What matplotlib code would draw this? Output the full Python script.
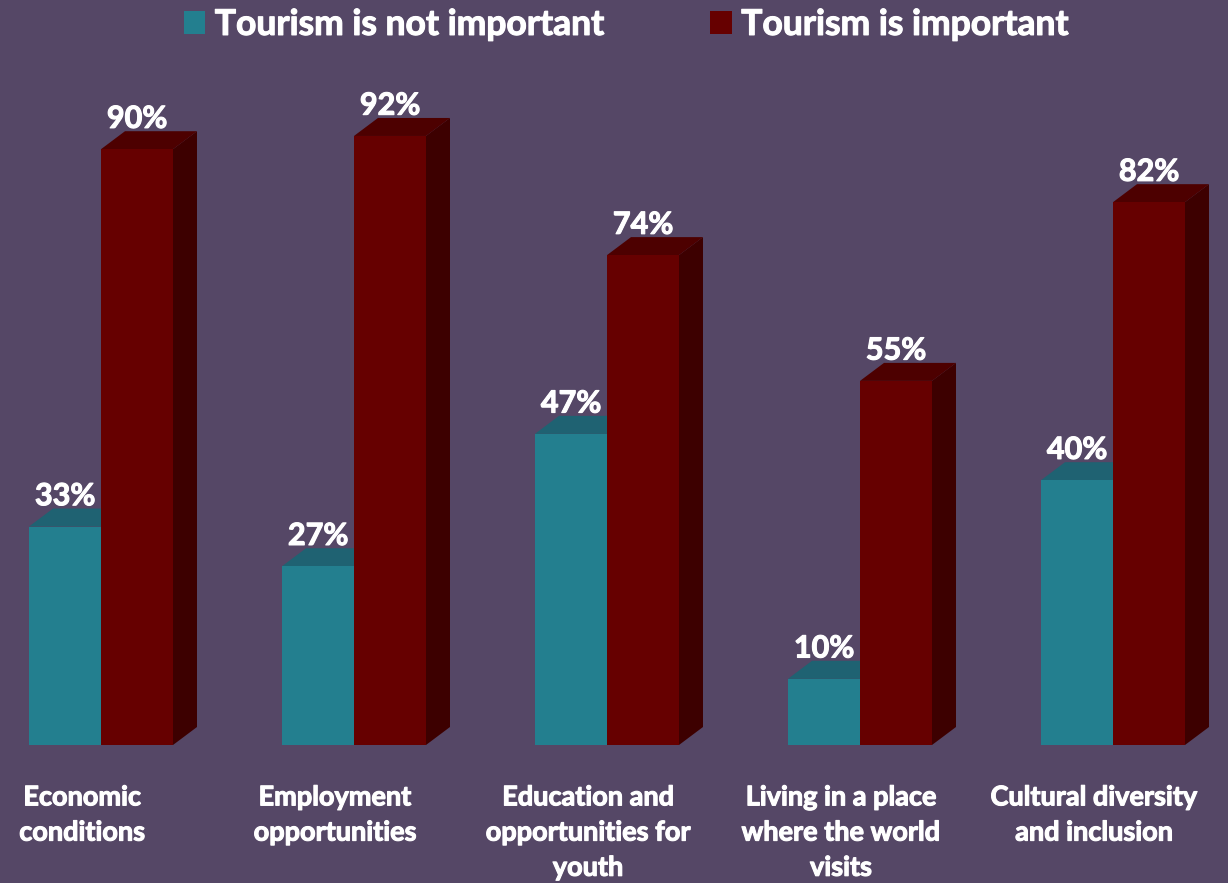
import matplotlib
matplotlib.use("Agg")
import matplotlib.pyplot as plt
import matplotlib.patheffects as pe
from matplotlib.patches import Polygon, Rectangle, Patch

categories = [
    "Economic\nconditions",
    "Employment\nopportunities",
    "Education and\nopportunities for\nyouth",
    "Living in a place\nwhere the world\nvisits",
    "Cultural diversity\nand inclusion",
]
not_important = [33, 27, 47, 10, 40]
important = [90, 92, 74, 55, 82]
series_names = ["Tourism is not important", "Tourism is important"]

BG = "#554766"
FRONT = ["#237f8f", "#660000"]
TOP = ["#1f6272", "#4d0000"]
SIDE = ["#1a5360", "#3d0000"]

plt.rcParams["font.family"] = ["Lato", "DejaVu Sans"]
plt.rcParams["font.weight"] = "bold"

# slight outline to give the white text a heavier look
HEAVY = [pe.withStroke(linewidth=0.8, foreground="white")]

fig = plt.figure(figsize=(12.28, 8.83), dpi=100)
fig.patch.set_facecolor(BG)

# axes spans full width; 0% sits at the bars' baseline
ax = fig.add_axes([0, 138 / 883, 1, 662 / 883])
ax.set_facecolor("none")
ax.set_xlim(-101 / 253, (1228 - 101) / 253)
ax.set_ylim(0, 100)
ax.axis("off")

W = 72 / 253      # bar width in group units
DX = 24 / 253     # depth offset (x)
DY = 18 / 6.62    # depth offset (y, in %)


def bar3d(x0, h, k):
    x1 = x0 + W
    ax.add_patch(Polygon([(x1, 0), (x1 + DX, DY), (x1 + DX, h + DY), (x1, h)],
                         closed=True, fc=SIDE[k], ec="none"))
    ax.add_patch(Polygon([(x0, h), (x0 + DX, h + DY), (x1 + DX, h + DY), (x1, h)],
                         closed=True, fc=TOP[k], ec="none"))
    ax.add_patch(Rectangle((x0, 0), W, h, fc=FRONT[k], ec="none"))
    ax.text(x0 + W / 2, h + DY + 0.5, f"{h}%", ha="center", va="baseline",
            color="white", fontsize=22, fontweight="bold", clip_on=False,
            path_effects=HEAVY)


for i, (a, b) in enumerate(zip(not_important, important)):
    bar3d(i - W, a, 0)
    bar3d(i, b, 1)
    ax.text(i - 19 / 253, -6.1, categories[i], ha="center", va="top",
            color="white", fontsize=19.5, fontweight="bold", linespacing=1.56,
            clip_on=False, path_effects=HEAVY)

handles = [Patch(fc=FRONT[0], ec="none"), Patch(fc=FRONT[1], ec="none")]
leg = fig.legend(handles, series_names, loc="upper center",
                 bbox_to_anchor=(0.51, 1.026), ncol=2, frameon=False,
                 labelcolor="white", handlelength=0.6, handleheight=0.6,
                 handletextpad=0.27, columnspacing=3.0,
                 prop={"weight": "bold", "size": 25.5})
for t in leg.get_texts():
    t.set_path_effects(HEAVY)

fig.savefig("out.png", dpi=100, facecolor=BG)
